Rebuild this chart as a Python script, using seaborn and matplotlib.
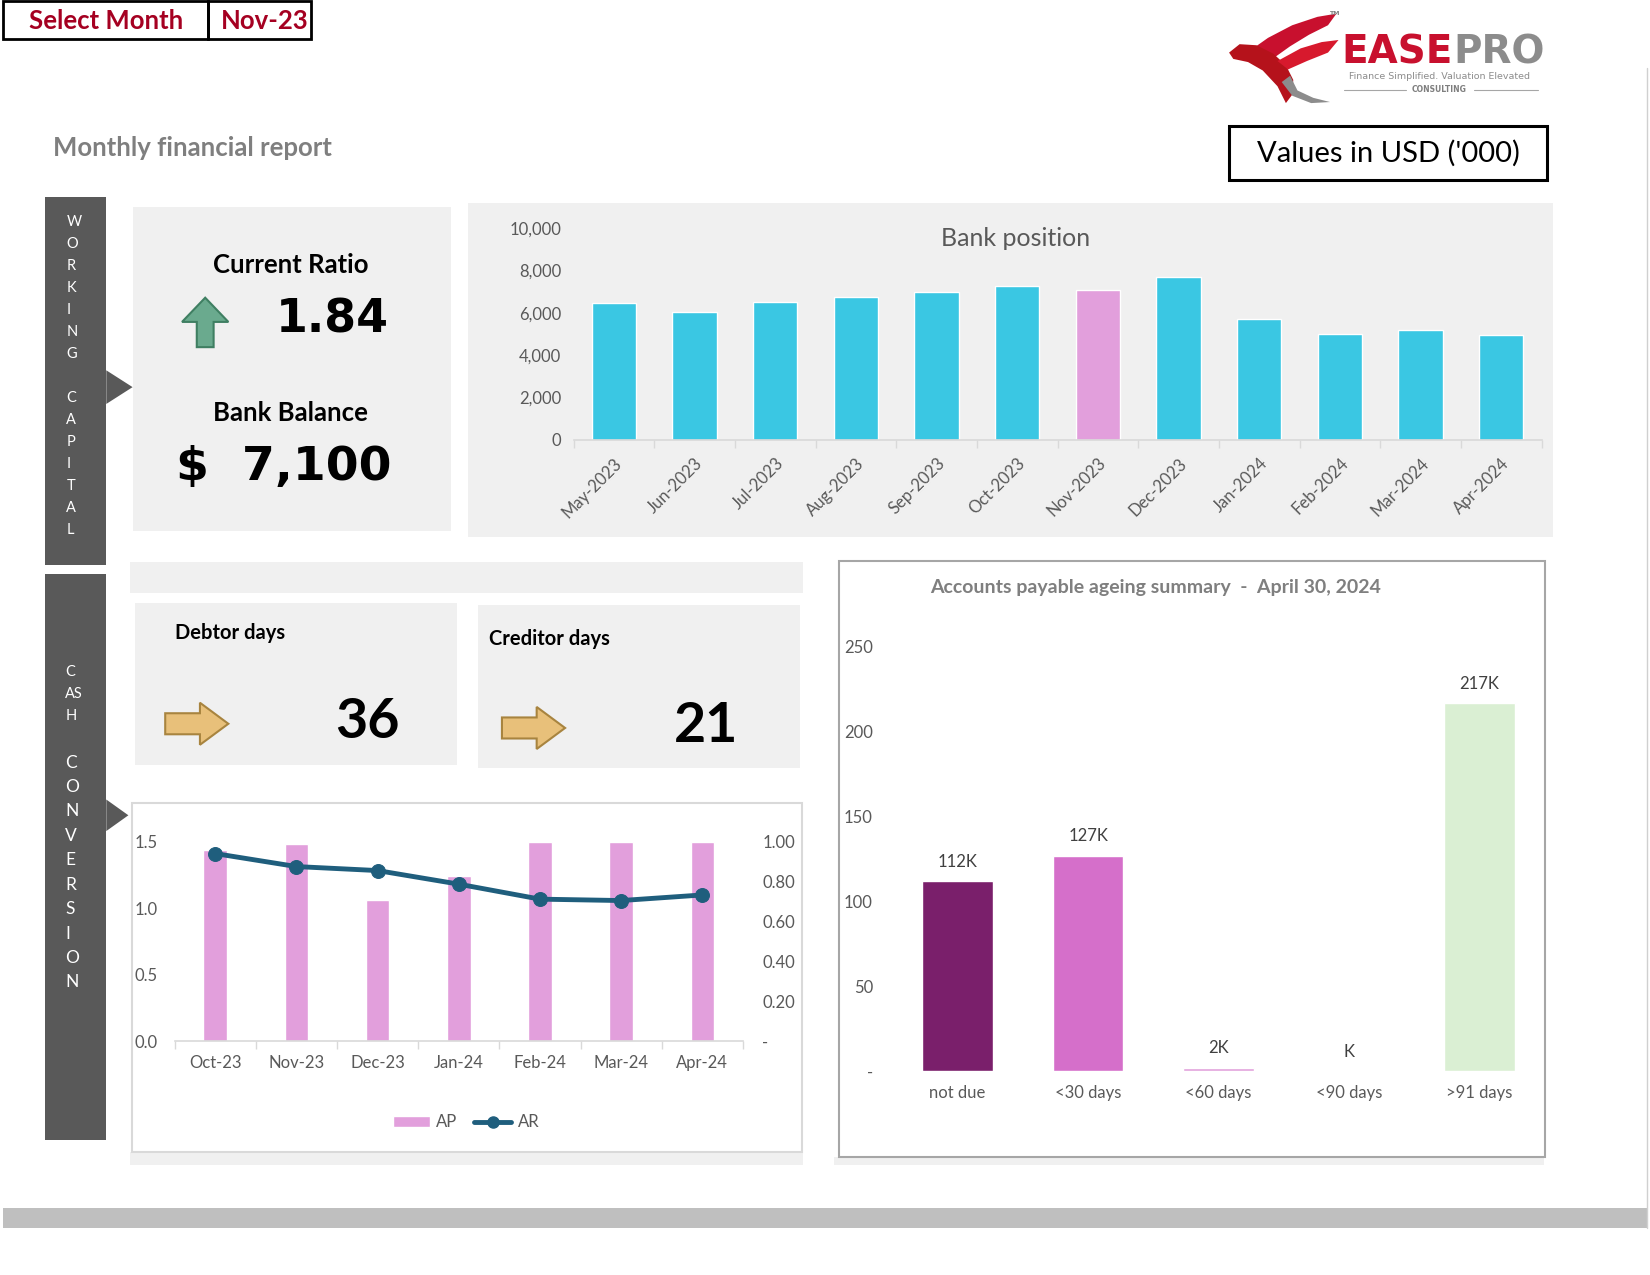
import numpy as np
import pandas as pd
import seaborn as sns
import matplotlib.pyplot as plt
from matplotlib.patches import Rectangle, Polygon, Patch
from matplotlib.lines import Line2D
from matplotlib.ticker import FuncFormatter

# ---- data ----
selected_month = "Nov-23"
current_ratio = 1.84
bank_balance = 7100
debtor_days = 36
creditor_days = 21

bank_months = ["May-2023", "Jun-2023", "Jul-2023", "Aug-2023", "Sep-2023", "Oct-2023",
               "Nov-2023", "Dec-2023", "Jan-2024", "Feb-2024", "Mar-2024", "Apr-2024"]
bank_values = [6450, 6050, 6520, 6760, 7000, 7280, 7100, 7710, 5730, 5020, 5210, 4970]

cash_months = ["Oct-23", "Nov-23", "Dec-23", "Jan-24", "Feb-24", "Mar-24", "Apr-24"]
ap_values = [1.44, 1.48, 1.06, 1.24, 1.5, 1.5, 1.5]
ar_values = [0.94, 0.875, 0.855, 0.787, 0.712, 0.705, 0.733]

ageing_buckets = ["not due", "<30 days", "<60 days", "<90 days", ">91 days"]
ageing_values = [112, 127, 2, 0, 217]
ageing_date = "April 30, 2024"

sns.set_theme(style="white")
LATO = ["Lato", "DejaVu Sans"]
plt.rcParams["font.family"] = LATO

W, H = 1568, 1212
fig = plt.figure(figsize=(16.5, 12.75), dpi=100, facecolor="white")


def fx(x):
    return x / W


def fy(y):
    return 1 - y / H


def box(x0, y0, x1, y1, fc="none", ec="none", lw=0, z=-1):
    fig.add_artist(Rectangle((fx(x0), fy(y1)), fx(x1) - fx(x0), fy(y0) - fy(y1),
                             transform=fig.transFigure, facecolor=fc, edgecolor=ec,
                             linewidth=lw, zorder=z))


def poly(pts, fc, ec="none", lw=0, z=2):
    fig.add_artist(Polygon([(fx(x), fy(y)) for x, y in pts], closed=True,
                           transform=fig.transFigure, facecolor=fc, edgecolor=ec,
                           linewidth=lw, zorder=z))


def hline(x0, x1, y, color, lw=1):
    fig.add_artist(Line2D([fx(x0), fx(x1)], [fy(y), fy(y)], transform=fig.transFigure,
                          color=color, lw=lw, zorder=2))


def ax_at(x0, y0, x1, y1):
    a = fig.add_axes([fx(x0), fy(y1), fx(x1) - fx(x0), fy(y0) - fy(y1)])
    a.set_facecolor("none")
    return a


def txt(x, y, s, **kw):
    kw.setdefault("ha", "center")
    kw.setdefault("va", "center")
    kw.setdefault("zorder", 3)
    return fig.text(fx(x), fy(y), s, **kw)


# ---- background panels ----
box(445, 193, 1476, 510, fc="#F0F0F0")
box(126, 197, 429, 505, fc="#F0F0F0")
box(124, 534, 763, 564, fc="#F0F0F0")
box(128, 573, 434, 727, fc="#F0F0F0")
box(454, 575, 760, 730, fc="#F0F0F0")
box(124, 1095, 763, 1107, fc="#F0F0F0")
box(125, 763, 762, 1095, fc="white", ec="#D9D9D9", lw=1.5)
box(793, 1100, 1467, 1107, fc="#F0F0F0")
box(797, 533, 1468, 1100, fc="white", ec="#A6A6A6", lw=1.5)
box(43, 187, 101, 537, fc="#595959")
box(43, 546, 101, 1084, fc="#595959")
poly([(101, 352), (126, 368), (101, 384)], "#595959")
poly([(101, 760), (122, 775), (101, 790)], "#595959")
box(3, 1148, 1565, 1167, fc="#BFBFBF")
fig.add_artist(Line2D([fx(1565), fx(1565)], [fy(65), fy(1167)], transform=fig.transFigure,
                      color="#D0D0D0", lw=1))

# ---- header ----
box(3, 1, 198, 37, ec="black", lw=2, z=2)
box(198, 1, 296, 37, ec="black", lw=2, z=2)
txt(101, 20, "Select Month", fontsize=18.5, fontweight="bold", color="#A50021")
txt(252, 20, selected_month, fontsize=18.5, fontweight="bold", color="#A50021")
txt(50, 141, "Monthly financial report", ha="left", fontsize=18.5, fontweight="bold",
    color="#7F7F7F")
box(1168, 120, 1470, 171, ec="black", lw=2.2, z=2)
txt(1319, 146, "Values in USD ('000)", fontsize=21, color="black")

# logo
poly([(1188, 48), (1205, 36), (1228, 24), (1252, 16), (1270, 13), (1262, 24), (1244, 33),
      (1226, 44), (1212, 54)], "#C8102E")
poly([(1168, 50), (1178, 42), (1194, 43), (1210, 51), (1222, 62), (1229, 76), (1228, 90),
      (1222, 98), (1214, 82), (1200, 67), (1186, 59), (1172, 56)], "#B5121B")
poly([(1214, 58), (1236, 46), (1256, 40), (1272, 38), (1262, 50), (1242, 58), (1224, 66)],
     "#D7192D")
poly([(1218, 78), (1228, 91), (1246, 98), (1264, 97), (1248, 93), (1233, 86), (1226, 72)],
     "#8C8C8C")
t_ease = txt(1275, 50, "EASE", ha="left", fontsize=28, fontweight="bold", color="#C8102E",
             family="DejaVu Sans")
fig.canvas.draw()
x_end = t_ease.get_window_extent().x1 / fig.bbox.width
fig.text(x_end, fy(50), "PRO", ha="left", va="center", fontsize=28, fontweight="bold",
         color="#8C8C8C", family="DejaVu Sans", zorder=3)
txt(1368, 73, "Finance Simplified. Valuation Elevated", fontsize=6.8, color="#8C8C8C",
    family="DejaVu Sans")
txt(1368, 85, "CONSULTING", fontsize=5.5, fontweight="bold", color="#7F7F7F", family="DejaVu Sans")
hline(1277, 1336, 86, "#A6A6A6", 0.8)
hline(1401, 1462, 86, "#A6A6A6", 0.8)
txt(1268, 13, "TM", fontsize=4.5, fontweight="bold", color="#7F7F7F", family="DejaVu Sans")

# ---- side banners ----
for i, ch in enumerate(list("WORKING") + [""] + list("CAPITAL")):
    txt(63, 211 + 20.9 * i, ch, ha="left", fontsize=10.5, color="white")
for i, ch in enumerate(["C", "AS", "H"]):
    txt(62, 639 + 21 * i, ch, ha="left", fontsize=10.5, color="white")
for i, ch in enumerate("CONVERSION"):
    txt(62, 725 + 23.2 * i, ch, ha="left", fontsize=12.5, color="white")

# ---- KPI cards ----
txt(276, 252, "Current Ratio", fontsize=18.5, fontweight="bold", color="black")
txt(316, 304, f"{current_ratio:.2f}", fontsize=33, fontweight="bold", color="black",
    family="DejaVu Sans")
txt(276, 393, "Bank Balance", fontsize=18.5, fontweight="bold", color="black")
txt(270, 444, f"$  {bank_balance:,}", fontsize=34, fontweight="bold", color="black",
    family="DejaVu Sans")
txt(166, 602, "Debtor days", ha="left", fontsize=14.5, fontweight="bold", color="black")
txt(349, 686, str(debtor_days), fontsize=40, fontweight="bold", color="black")
txt(465, 607, "Creditor days", ha="left", fontsize=14.5, fontweight="bold", color="black")
txt(671, 690, str(creditor_days), fontsize=40, fontweight="bold", color="black")

poly([(195, 283), (217, 306), (203, 306), (203, 330), (187, 330), (187, 306), (173, 306)],
     "#6AAA8E", ec="#3F7F62", lw=1.5)
arrow_r = [(217, 688), (190, 708), (190, 698), (157, 698), (157, 678), (190, 678), (190, 668)]
poly(arrow_r, "#E8C07A", ec="#A8843F", lw=1.5)
poly([(x + 320, y + 4) for x, y in arrow_r], "#E8C07A", ec="#A8843F", lw=1.5)

# ---- bank position chart ----
sel_long = pd.to_datetime(selected_month, format="%b-%y").strftime("%b-%Y")
bank_colors = ["#E29FDC" if m == sel_long else "#3AC7E3" for m in bank_months]
ax1 = ax_at(545, 217, 1465, 418)
sns.barplot(x=bank_months, y=bank_values, hue=bank_months, palette=bank_colors, width=0.55,
            saturation=1, legend=False, ax=ax1)
ax1.set_ylim(0, 10000)
ax1.set_yticks(range(0, 10001, 2000))
ax1.yaxis.set_major_formatter(FuncFormatter(lambda v, p: f"{v:,.0f}"))
ax1.set_xlim(-0.5, len(bank_months) - 0.5)
ax1.set_xticks(np.arange(-0.5, len(bank_months)), minor=True)
for s in ["top", "right", "left"]:
    ax1.spines[s].set_visible(False)
ax1.spines["bottom"].set_color("#D9D9D9")
ax1.spines["bottom"].set_linewidth(1.2)
ax1.tick_params(axis="y", length=0, pad=9, labelsize=12, labelcolor="#595959")
ax1.tick_params(axis="x", which="major", length=0, pad=11, labelsize=12, labelcolor="#595959")
ax1.tick_params(axis="x", which="minor", length=6, width=1, color="#D9D9D9", bottom=True)
plt.setp(ax1.get_xticklabels(), rotation=45, ha="right", rotation_mode="anchor")
ax1.set_xlabel("")
ax1.set_ylabel("")
txt(965, 227, "Bank position", fontsize=18, color="#595959")

# ---- AP / AR chart ----
ax2 = ax_at(166, 800, 706, 990)
sns.barplot(x=cash_months, y=ap_values, color="#E29FDC", width=0.29, saturation=1, ax=ax2)
ax2.set_ylim(0, 1.5)
ax2.set_yticks([0, 0.5, 1.0, 1.5])
ax2.yaxis.set_major_formatter(FuncFormatter(lambda v, p: f"{v:.1f}"))
ax2b = ax2.twinx()
sns.lineplot(x=np.arange(len(cash_months)), y=ar_values, ax=ax2b, color="#1F5E7D", lw=3.5,
             marker="o", markersize=10, markeredgecolor="#1F5E7D")
ax2b.set_ylim(0, 1.0)
ax2b.set_yticks(np.arange(0, 1.01, 0.2))
ax2b.yaxis.set_major_formatter(FuncFormatter(lambda v, p: "-" if abs(v) < 1e-9 else f"{v:.2f}"))
ax2.set_xlim(-0.5, len(cash_months) - 0.5)
ax2.set_xticks(np.arange(-0.5, len(cash_months)), minor=True)
for s in ["top", "right", "left"]:
    ax2.spines[s].set_visible(False)
for s in ax2b.spines:
    ax2b.spines[s].set_visible(False)
ax2.spines["bottom"].set_color("#D9D9D9")
ax2.spines["bottom"].set_linewidth(1.2)
ax2.tick_params(axis="y", length=0, pad=12, labelsize=12, labelcolor="#595959")
ax2b.tick_params(axis="y", length=0, pad=14, labelsize=12, labelcolor="#595959")
ax2.tick_params(axis="x", which="major", length=0, pad=10, labelsize=12, labelcolor="#595959")
ax2.tick_params(axis="x", which="minor", length=6, width=1, color="#D9D9D9", bottom=True)
for a in (ax2, ax2b):
    a.set_xlabel("")
    a.set_ylabel("")
handles = [Patch(facecolor="#E29FDC", label="AP"),
           Line2D([], [], color="#1F5E7D", lw=3.5, marker="o", markersize=8, label="AR")]
leg = fig.legend(handles=handles, loc="center", bbox_to_anchor=(fx(443), fy(1067)), ncol=2,
                 frameon=False, fontsize=12, handlelength=2.2, columnspacing=1.0, handletextpad=0.4)
for t in leg.get_texts():
    t.set_color("#595959")

# ---- AP ageing chart ----
ageing_colors = ["#7A1F6B", "#D56FCA", "#E2A1DC", "#E2A1DC", "#DAEFD3"]
ax3 = ax_at(848, 615, 1468, 1018)
sns.barplot(x=ageing_buckets, y=ageing_values, hue=ageing_buckets, palette=ageing_colors,
            width=0.54, saturation=1, legend=False, ax=ax3)
ax3.set_ylim(0, 250)
ax3.set_yticks(range(0, 251, 50))
ax3.yaxis.set_major_formatter(FuncFormatter(lambda v, p: "-" if v == 0 else f"{v:.0f}"))
ax3.set_xlim(-0.5, len(ageing_buckets) - 0.5)
for s in ax3.spines:
    ax3.spines[s].set_visible(False)
ax3.tick_params(axis="y", length=0, pad=14, labelsize=12, labelcolor="#595959")
ax3.tick_params(axis="x", length=0, pad=10, labelsize=12, labelcolor="#595959")
ax3.set_xlabel("")
ax3.set_ylabel("")
for cont in ax3.containers:
    ax3.bar_label(cont, labels=[f"{v:.0f}K" if v else "K" for v in cont.datavalues],
                  padding=8, fontsize=12, color="#404040")
txt(1098, 558, "Accounts payable ageing summary  -  " + ageing_date, fontsize=14,
    fontweight="bold", color="#7F7F7F")

fig.savefig("out.png", dpi=100, facecolor="white")
